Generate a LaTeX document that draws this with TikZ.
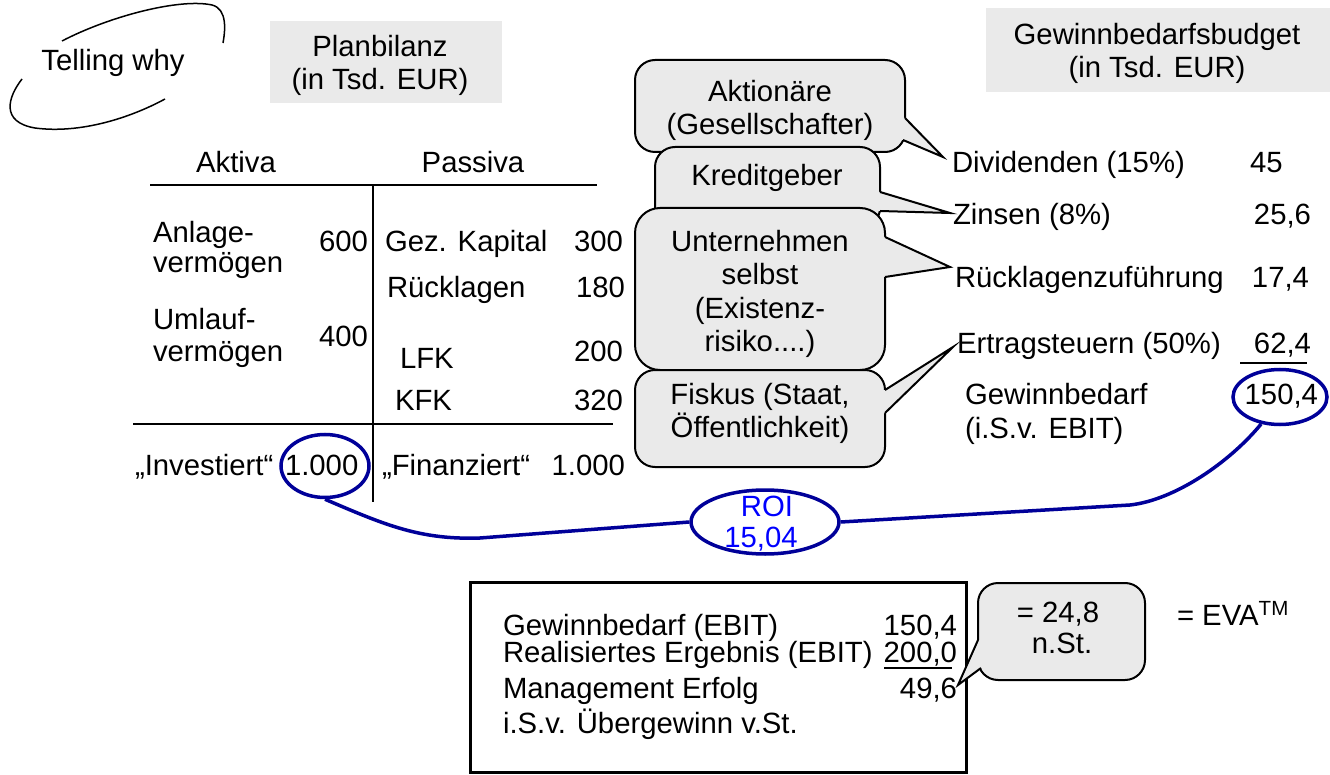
\documentclass[tikz,border=0pt]{standalone}
\usepackage{fontspec}
\setmainfont{Liberation Sans}
\usetikzlibrary{shapes.geometric}
\definecolor{boxgray}{HTML}{EAEAEA}
\definecolor{navy}{HTML}{000099}
\definecolor{roiblue}{HTML}{0000FF}
\newcommand{\fs}{\fontsize{29.3}{33}\selectfont}
\begin{document}
\begin{tikzpicture}[x=1pt,y=-1pt,
  txt/.style={inner sep=0pt, outer sep=0pt, font=\fs},
  lw/.style={line width=2.2pt},
  graybox/.style={fill=boxgray, draw=none, inner sep=0pt},
  callbox/.style={fill=boxgray, draw=black, line width=2pt, rounded corners=20pt, inner sep=0pt},
  ptrline/.style={line width=2pt, line join=miter},
  navyring/.style={draw=navy, line width=3.5pt, ellipse, inner sep=0pt},
  navyline/.style={draw=navy, line width=3.5pt},
]
\useasboundingbox (0,0) rectangle (1330,775);

% Telling why
\node[txt, anchor=base] (tw) at (113,71) {Telling why};
\draw[line width=1.5pt] (62,41) .. controls (110,16) and (180,-2) .. (212,5) .. controls (228,9) and (225,32) .. (223,43);
\draw[line width=1.5pt] (22,79) .. controls (8,97) and (0,122) .. (35,128) .. controls (80,134) and (130,118) .. (165,99);

% headings
\node[graybox, minimum width=232pt, minimum height=82pt] (pbbox) at (386,62) {};
\node[txt, anchor=base] (pb1) at (380,57) {Planbilanz};
\node[txt, anchor=base] (pb2) at (380,90) {(in Tsd. EUR)};
\node[graybox, minimum width=346pt, minimum height=84pt] (gbbox) at (1159,50) {};
\node[txt, anchor=base] (gb1) at (1157,45) {Gewinnbedarfsbudget};
\node[txt, anchor=base] (gb2) at (1157,78) {(in Tsd. EUR)};

% T-account
\node[txt, anchor=base] (akt) at (236,173) {Aktiva};
\node[txt, anchor=base] (pas) at (473,173) {Passiva};
\coordinate (tl) at (150,185);
\coordinate (tr) at (597,185);
\coordinate (vt) at (373,185);
\coordinate (vb) at (373,502);
\coordinate (bl) at (133,424);
\coordinate (br) at (613,424);
\draw[lw] (tl) -- (tr);
\draw[lw] (vt) -- (vb);
\draw[lw] (bl) -- (br);

\node[txt, anchor=base west] (av1) at (153,243) {Anlage-};
\node[txt, anchor=base west] (av2) at (153,273) {vermögen};
\node[txt, anchor=base east] (av3) at (368,252) {600};
\node[txt, anchor=base west] (uv1) at (153,330) {Umlauf-};
\node[txt, anchor=base west] (uv2) at (153,362) {vermögen};
\node[txt, anchor=base east] (uv3) at (368,347) {400};

\node[txt, anchor=base west] (gk1) at (385,252) {Gez. Kapital};
\node[txt, anchor=base east] (gk2) at (623,252) {300};
\node[txt, anchor=base west] (rl1) at (387,298) {Rücklagen};
\node[txt, anchor=base east] (rl2) at (625,298) {180};
\node[txt, anchor=base west] (lf1) at (400,368) {LFK};
\node[txt, anchor=base east] (lf2) at (623,362) {200};
\node[txt, anchor=base west] (kf1) at (395,410) {KFK};
\node[txt, anchor=base east] (kf2) at (623,410) {320};

\node[txt, anchor=base west] (inv1) at (135,475) {„Investiert“};
\node[txt, anchor=base west] (inv2) at (285,475) {1.000};
\node[txt, anchor=base west] (fin1) at (382,475) {„Finanziert“};
\node[txt, anchor=base east] (fin2) at (625,475) {1.000};
\node[navyring, minimum width=88pt, minimum height=63pt] (e1) at (325,466) {};

% callouts
\coordinate (t1) at (943,157);
\node[callbox, minimum width=270pt, minimum height=92pt] (c1) at (770,106) {};
\fill[boxgray] (905,118) -- (t1) -- (903,140) -- (899,140) -- (899,118) -- cycle;
\draw[ptrline] (905,118) -- (t1) -- (903,140);
\node[txt, anchor=base] (c1a) at (770,102) {Aktionäre};
\node[txt, anchor=base] (c1b) at (770,135) {(Gesellschafter)};

\coordinate (t2) at (950,213);
\node[callbox, minimum width=225pt, minimum height=81pt] (c2) at (767.5,187.5) {};
\fill[boxgray] (880,192) -- (t2) -- (880,211) -- (875,211) -- (875,192) -- cycle;
\draw[ptrline] (880,192) -- (t2) -- (880,211);
\node[txt, anchor=base] (c2a) at (767,186) {Kreditgeber};

\coordinate (t3) at (950,267);
\node[callbox, rounded corners=25pt, minimum width=250pt, minimum height=162pt] (c3) at (760,289) {};
\fill[boxgray] (885,237) -- (t3) -- (885,277) -- (880,277) -- (880,237) -- cycle;
\draw[ptrline] (885,237) -- (t3) -- (885,277);
\node[txt, anchor=base] (c3a) at (760,252) {Unternehmen};
\node[txt, anchor=base] (c3b) at (760,285) {selbst};
\node[txt, anchor=base] (c3c) at (760,319) {(Existenz-};
\node[txt, anchor=base] (c3d) at (760,352) {risiko....)};

\coordinate (t4) at (953,347);
\node[callbox, minimum width=250pt, minimum height=97pt] (c4) at (760,418.5) {};
\fill[boxgray] (885,390) -- (t4) -- (885,413) -- (880,413) -- (880,390) -- cycle;
\draw[ptrline] (885,390) -- (t4) -- (885,413);
\node[txt, anchor=base] (c4a) at (760,404) {Fiskus (Staat,};
\node[txt, anchor=base] (c4b) at (760,437) {Öffentlichkeit)};

% budget
\node[txt, anchor=base west] (div1) at (952,173) {Dividenden (15\%)};
\node[txt, anchor=base west] (div2) at (1250,173) {45};
\node[txt, anchor=base west] (zin1) at (953,225) {Zinsen (8\%)};
\node[txt, anchor=base east] (zin2) at (1311,225) {25,6};
\node[txt, anchor=base west] (rz1) at (955,288) {Rücklagenzuführung};
\node[txt, anchor=base east] (rz2) at (1309,288) {17,4};
\node[txt, anchor=base west] (es1) at (957,353) {Ertragsteuern (50\%)};
\node[txt, anchor=base east] (es2) at (1311,353) {62,4};
\coordinate (ul1) at (1240,363);
\coordinate (ul2) at (1307,363);
\draw[lw] (ul1) -- (ul2);
\node[txt, anchor=base west] (gw1) at (965,404) {Gewinnbedarf};
\node[txt, anchor=base west] (gw2) at (965,438) {(i.S.v. EBIT)};
\node[txt, anchor=base east] (gw3) at (1318,404) {150,4};
\node[navyring, minimum width=94pt, minimum height=55pt] (e2) at (1280,397) {};

% ROI
\node[navyring, minimum width=148pt, minimum height=64pt] (roi) at (765,522) {};
\node[txt, anchor=base, text=roiblue] (roi1) at (767,516) {ROI};
\node[txt, anchor=base, text=roiblue] (roi2) at (761,547) {15,04};
\draw[navyline] (e1.south) .. controls (385,525) and (420,540) .. (480,538) -- (roi.west);
\draw[navyline] (roi.east) -- (1130,505) .. controls (1175,500) and (1230,462) .. (e2.235);

% bottom box
\node[draw, line width=3pt, minimum width=496pt, minimum height=190pt, inner sep=0pt] (bb) at (718,677) {};
\node[txt, anchor=base west] (b1a) at (503,635) {Gewinnbedarf (EBIT)};
\node[txt, anchor=base east] (b1b) at (957,635) {150,4};
\node[txt, anchor=base west] (b2a) at (503,662) {Realisiertes Ergebnis (EBIT)};
\node[txt, anchor=base east] (b2b) at (957,662) {200,0};
\coordinate (ul3) at (884,668);
\coordinate (ul4) at (952,668);
\draw[lw] (ul3) -- (ul4);
\node[txt, anchor=base west] (b3a) at (503,698) {Management Erfolg};
\node[txt, anchor=base east] (b3b) at (957,698) {49,6};
\node[txt, anchor=base west] (b4a) at (503,733) {i.S.v. Übergewinn v.St.};

\coordinate (t5) at (958,685);
\node[callbox, minimum width=167pt, minimum height=97pt] (c5) at (1061.5,631.5) {};
\fill[boxgray] (978,640) -- (t5) -- (981,668) -- (986,668) -- (983,640) -- cycle;
\draw[ptrline] (978,640) -- (t5) -- (981,668);
\node[txt, anchor=base] (c5a) at (1058,622) {= 24,8};
\node[txt, anchor=base] (c5b) at (1062,653) {n.St.};
\node[txt, anchor=base west] (eva) at (1177,625) {= EVA\textsuperscript{TM}};
\end{tikzpicture}
\end{document}
